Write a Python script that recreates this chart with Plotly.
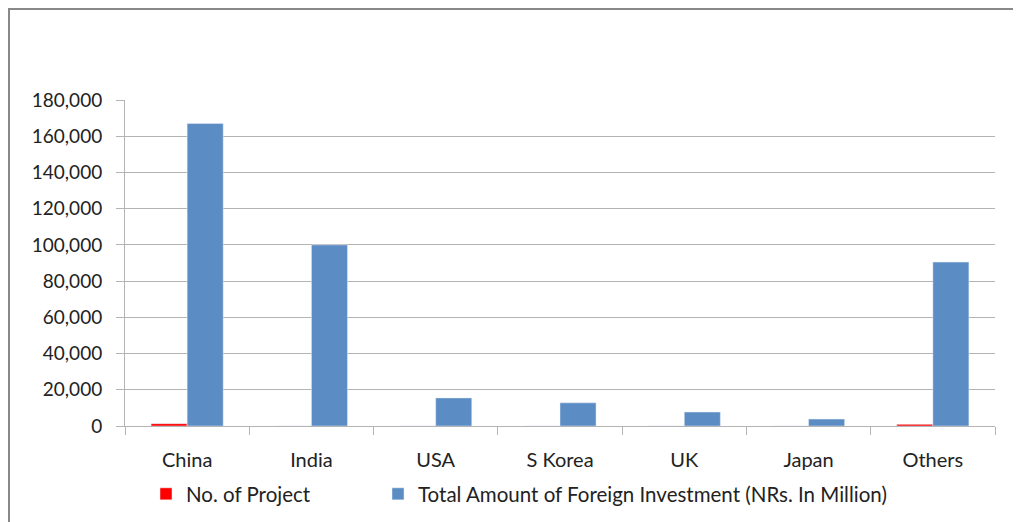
import plotly.graph_objects as go

categories = ["China", "India", "USA", "S Korea", "UK", "Japan", "Others"]
projects = [1300, 60, 40, 30, 20, 25, 900]
investment = [167000, 100000, 15500, 12800, 7700, 3800, 90500]
series_names = ["No. of Project", "Total Amount of Foreign Investment (NRs. In Million)"]
y_ticks = [0, 20000, 40000, 60000, 80000, 100000, 120000, 140000, 160000, 180000]

FONT = "Lato"
GRID = "#b4b4b4"

W, H = 1013, 514
# plot area in figure px
X0, X1, Y0, Y1 = 117, 987, 92, 418
pw, ph = X1 - X0, Y1 - Y0

def px_x(x):
    return (x - X0) / pw

def px_y(y):
    return (Y1 - y) / ph

fig = go.Figure()
fig.add_trace(go.Bar(x=categories, y=projects, name=series_names[0], marker_color="#ff0000",
                     legend="legend"))
fig.add_trace(go.Bar(x=categories, y=investment, name=series_names[1], marker_color="#5b8cc4",
                     legend="legend2"))

fig.add_shape(type="rect", xref="paper", yref="paper",
              x0=px_x(1), x1=px_x(1040), y0=px_y(560), y1=px_y(1),
              line=dict(color="#888888", width=2), fillcolor="rgba(0,0,0,0)", layer="below")

leg_common = dict(orientation="h", xanchor="left", y=px_y(486), yanchor="middle",
                  font=dict(size=20.5), bgcolor="rgba(0,0,0,0)")

fig.update_layout(
    width=W, height=H,
    margin=dict(l=X0, r=W - X1, t=Y0, b=H - Y1, pad=0, autoexpand=False),
    paper_bgcolor="white", plot_bgcolor="white",
    barmode="group", bargap=0.42, bargroupgap=0,
    font=dict(family=FONT, size=19, color="#222222"),
    showlegend=True,
    legend=dict(x=px_x(138), **leg_common),
    legend2=dict(x=px_x(370), **leg_common),
    xaxis=dict(showline=True, linecolor=GRID, linewidth=1, ticks="outside", tickson="boundaries",
               ticklen=8, tickcolor=GRID, showgrid=False, tickfont=dict(size=20), ticklabelstandoff=16),
    yaxis=dict(range=[0, 180000], tickvals=y_ticks, tickformat=",", showline=True, linecolor=GRID,
               ticks="outside", ticklen=8, tickcolor=GRID, gridcolor=GRID, gridwidth=1,
               zeroline=False, tickfont=dict(size=19), ticklabelstandoff=10),
)

fig.write_html("out.html")
